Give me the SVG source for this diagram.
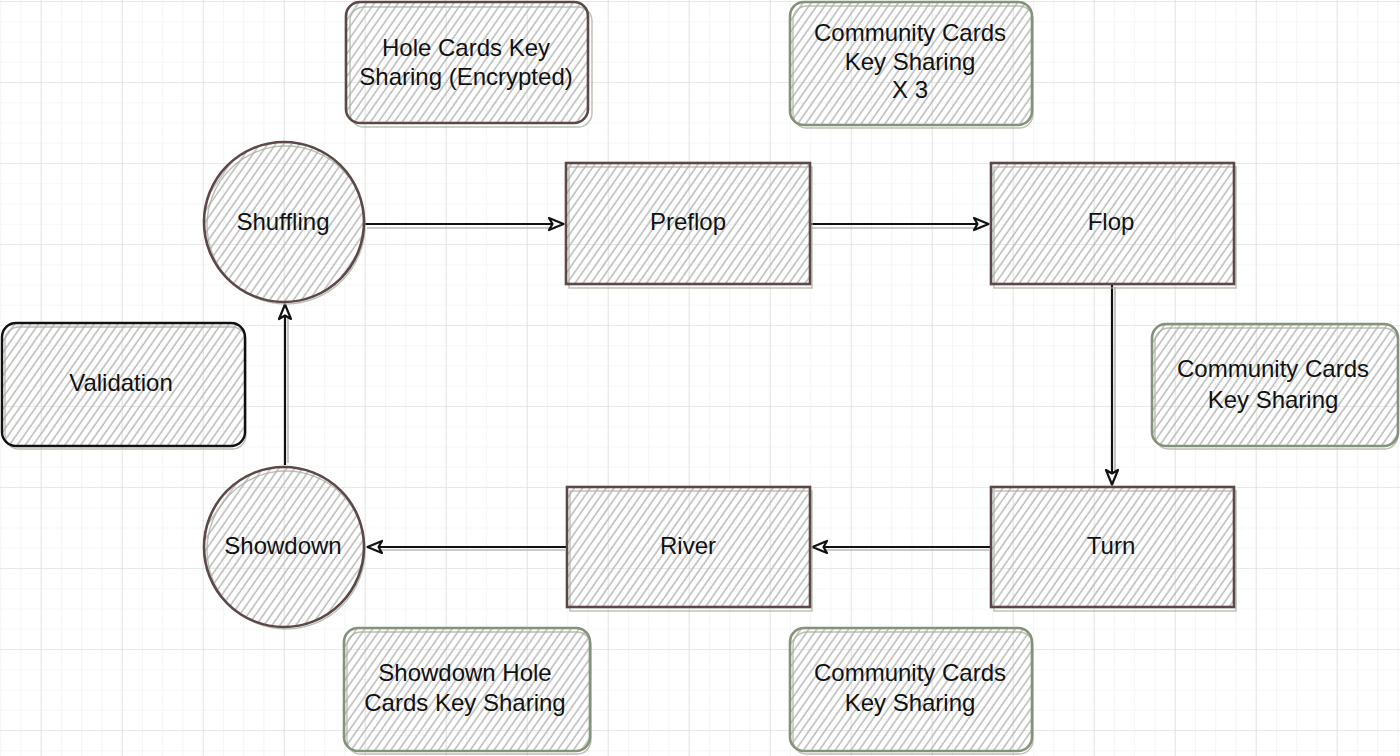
<svg xmlns="http://www.w3.org/2000/svg" width="1400" height="756" viewBox="0 0 1400 756">
<defs>
  <pattern id="minor" x="0.2" y="1" width="20.25" height="20.25" patternUnits="userSpaceOnUse">
    <path d="M0,0 V20.25 M0,0 H20.25" stroke="#efefef" stroke-width="1.2" fill="none"/>
  </pattern>
  <pattern id="major" x="40.7" y="1" width="81" height="81" patternUnits="userSpaceOnUse">
    <path d="M0,0 V81 M0,0 H81" stroke="#d9d9d9" stroke-width="1.2" fill="none"/>
  </pattern>
  <pattern id="hatch" width="6.5" height="6.5" patternUnits="userSpaceOnUse" patternTransform="rotate(35)">
    <line x1="3" y1="-1" x2="3" y2="8" stroke="#b9b9b9" stroke-width="1.5"/>
  </pattern>
  <marker id="arrow" viewBox="0 0 18 16" refX="17" refY="8" markerWidth="18" markerHeight="16" markerUnits="userSpaceOnUse" orient="auto">
    <path d="M2,2 L16.5,8 L2,14 L5.5,8 Z" fill="#fff" stroke="#111" stroke-width="2.2" stroke-linejoin="round"/>
  </marker>
</defs>
<style>
  text { font-family: "Liberation Sans", Arial, sans-serif; font-size: 24px; fill: #111; text-anchor: middle; }
  .fill { fill: url(#hatch); }
  .brown { fill: none; stroke: #5c4848; stroke-width: 2.6; }
  .green { fill: none; stroke: #84927a; stroke-width: 2.6; }
  .black { fill: none; stroke: #111; stroke-width: 2.4; }
  .ghost { fill: none; stroke: #a9b0a0; stroke-width: 1.4; opacity: 0.8; }
  .conn { fill: none; stroke: #111; stroke-width: 2.2; }
  .shadow { fill: none; stroke: #b8b8b8; stroke-width: 1.6; }
</style>
<rect width="1400" height="756" fill="#fff"/>
<rect width="1400" height="756" fill="url(#minor)"/>
<rect width="1400" height="756" fill="url(#major)"/>

<g id="connectors">
  <line class="shadow" x1="367" y1="228" x2="556" y2="228"/>
  <line class="conn" x1="365" y1="224" x2="564" y2="224" marker-end="url(#arrow)"/>
  <line class="shadow" x1="812" y1="228" x2="981" y2="228"/>
  <line class="conn" x1="810" y1="224" x2="989" y2="224" marker-end="url(#arrow)"/>
  <line class="shadow" x1="1115" y1="287" x2="1115" y2="476"/>
  <line class="conn" x1="1112" y1="285" x2="1112" y2="485" marker-end="url(#arrow)"/>
  <line class="shadow" x1="989" y1="550" x2="820" y2="550"/>
  <line class="conn" x1="991" y1="547" x2="812" y2="547" marker-end="url(#arrow)"/>
  <line class="shadow" x1="565" y1="550" x2="376" y2="550"/>
  <line class="conn" x1="567" y1="547" x2="367" y2="547" marker-end="url(#arrow)"/>
  <line class="shadow" x1="288" y1="463" x2="288" y2="314"/>
  <line class="conn" x1="285" y1="465" x2="285" y2="304" marker-end="url(#arrow)"/>
</g>

<g id="hole-cards">
  <rect class="fill" x="346" y="2" width="242" height="122" rx="14"/>
  <rect class="ghost" x="350" y="7" width="242" height="120" rx="14"/>
  <rect class="brown" x="346" y="2" width="242" height="121" rx="14"/>
  <text x="466" y="56">Hole Cards Key</text>
  <text x="466" y="85">Sharing (Encrypted)</text>
</g>

<g id="community-x3">
  <rect class="fill" x="790" y="2" width="242" height="124" rx="14"/>
  <rect class="ghost" x="793" y="6" width="240" height="122" rx="14"/>
  <rect class="green" x="790" y="2" width="242" height="123" rx="14"/>
  <text x="910" y="41">Community Cards</text>
  <text x="910" y="70">Key Sharing</text>
  <text x="910" y="98">X 3</text>
</g>

<g id="shuffling">
  <circle class="fill" cx="284" cy="222" r="80"/>
  <circle class="ghost" cx="286" cy="225" r="79"/>
  <circle class="brown" cx="284" cy="222" r="80"/>
  <text x="283" y="230">Shuffling</text>
</g>

<g id="preflop">
  <rect class="fill" x="566" y="163" width="244" height="122"/>
  <rect class="ghost" x="569" y="167" width="243" height="121"/>
  <rect class="brown" x="566" y="163" width="244" height="121"/>
  <text x="688" y="230">Preflop</text>
</g>

<g id="flop">
  <rect class="fill" x="991" y="163" width="243" height="122"/>
  <rect class="ghost" x="994" y="167" width="242" height="121"/>
  <rect class="brown" x="991" y="163" width="243" height="121"/>
  <text x="1111" y="230">Flop</text>
</g>

<g id="validation">
  <rect class="fill" x="2" y="323" width="243" height="124" rx="14"/>
  <rect class="ghost" x="5" y="327" width="241" height="122" rx="14"/>
  <rect class="black" x="2" y="323" width="243" height="123" rx="14"/>
  <text x="121" y="391">Validation</text>
</g>

<g id="community-right">
  <rect class="fill" x="1152" y="324" width="246" height="123" rx="14"/>
  <rect class="ghost" x="1155" y="328" width="243" height="121" rx="14"/>
  <rect class="green" x="1152" y="324" width="246" height="122" rx="14"/>
  <text x="1273" y="377">Community Cards</text>
  <text x="1273" y="408">Key Sharing</text>
</g>

<g id="showdown">
  <circle class="fill" cx="284" cy="547" r="80"/>
  <circle class="ghost" cx="286" cy="550" r="79"/>
  <circle class="brown" cx="284" cy="547" r="80"/>
  <text x="283" y="554">Showdown</text>
</g>

<g id="river">
  <rect class="fill" x="567" y="487" width="243" height="121"/>
  <rect class="ghost" x="570" y="491" width="242" height="120"/>
  <rect class="brown" x="567" y="487" width="243" height="120"/>
  <text x="688" y="554">River</text>
</g>

<g id="turn">
  <rect class="fill" x="991" y="487" width="243" height="121"/>
  <rect class="ghost" x="994" y="491" width="242" height="120"/>
  <rect class="brown" x="991" y="487" width="243" height="120"/>
  <text x="1111" y="554">Turn</text>
</g>

<g id="showdown-hole">
  <rect class="fill" x="344" y="628" width="246" height="124" rx="14"/>
  <rect class="ghost" x="347" y="632" width="244" height="122" rx="14"/>
  <rect class="green" x="344" y="628" width="246" height="123" rx="14"/>
  <text x="465" y="681">Showdown Hole</text>
  <text x="465" y="711">Cards Key Sharing</text>
</g>

<g id="community-bottom">
  <rect class="fill" x="790" y="628" width="242" height="124" rx="14"/>
  <rect class="ghost" x="793" y="632" width="240" height="122" rx="14"/>
  <rect class="green" x="790" y="628" width="242" height="123" rx="14"/>
  <text x="910" y="681">Community Cards</text>
  <text x="910" y="711">Key Sharing</text>
</g>
</svg>
